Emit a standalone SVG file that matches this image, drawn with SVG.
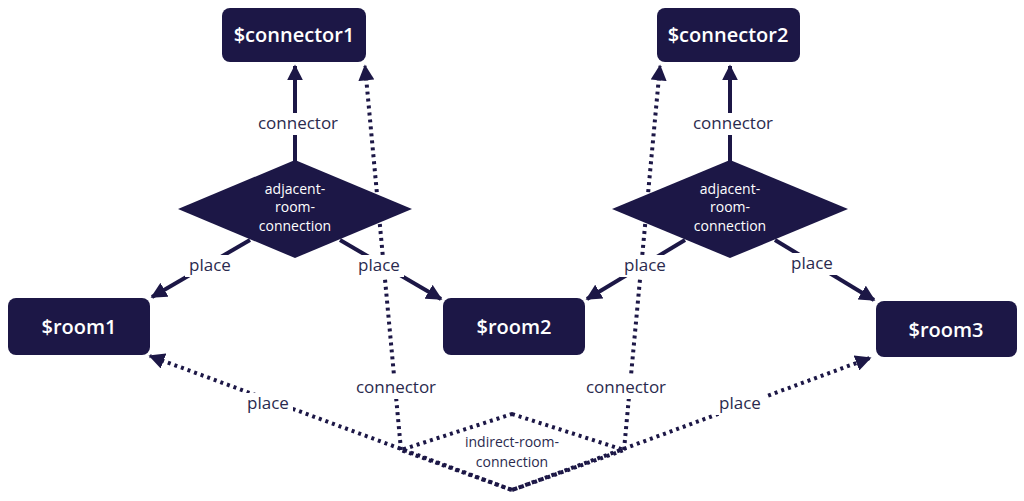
<svg xmlns="http://www.w3.org/2000/svg" width="1024" height="501" viewBox="0 0 1024 501">
<style>
.n{fill:#1c1746}
.nt{fill:#fff;font-family:"Open Sans","Liberation Sans",sans-serif;font-size:20px;font-weight:600;text-anchor:middle}
.dt{fill:#fff;font-family:"Open Sans","Liberation Sans",sans-serif;font-size:14px;text-anchor:middle}
.lt{fill:#2a2a4e;font-family:"Open Sans","Liberation Sans",sans-serif;font-size:17px;text-anchor:middle}
.it{fill:#2a2a4e;font-family:"Open Sans","Liberation Sans",sans-serif;font-size:14px;text-anchor:middle}
.s{stroke:#1c1746;stroke-width:4;fill:none}
.d{stroke:#1c1746;stroke-width:4;fill:none;stroke-dasharray:3 4}
.bg{fill:#fff}
</style>
<defs>
<marker id="a" viewBox="0 0 10 10" refX="9" refY="5" markerWidth="4" markerHeight="4" orient="auto" markerUnits="strokeWidth"><path d="M0,0L10,5L0,10z" fill="#1c1746"/></marker>
</defs>
<g id="connectors">
<line class="s" x1="295" y1="170" x2="295" y2="66" marker-end="url(#a)"/>
<line class="s" x1="250" y1="240" x2="152" y2="297" marker-end="url(#a)"/>
<line class="s" x1="340" y1="240" x2="441" y2="299" marker-end="url(#a)"/>
<line class="s" x1="730" y1="170" x2="730" y2="66" marker-end="url(#a)"/>
<line class="s" x1="685" y1="240" x2="587" y2="299" marker-end="url(#a)"/>
<line class="s" x1="775" y1="240" x2="874" y2="300" marker-end="url(#a)"/>
<line class="d" x1="401" y1="450" x2="365" y2="66" marker-end="url(#a)"/>
<line class="d" x1="624" y1="450" x2="660" y2="66" marker-end="url(#a)"/>
<line class="d" x1="512" y1="490" x2="150" y2="356" marker-end="url(#a)"/>
<line class="d" x1="512" y1="490" x2="870" y2="358" marker-end="url(#a)"/>
<rect class="bg" x="250" y="113" width="96" height="22"/>
<text class="lt" x="298" y="129">connector</text>
<rect class="bg" x="685" y="113" width="96" height="22"/>
<text class="lt" x="733" y="129">connector</text>
<rect class="bg" x="185" y="255" width="50" height="22"/>
<text class="lt" x="210" y="271">place</text>
<rect class="bg" x="354" y="255" width="50" height="22"/>
<text class="lt" x="379" y="271">place</text>
<rect class="bg" x="620" y="255" width="50" height="22"/>
<text class="lt" x="645" y="271">place</text>
<rect class="bg" x="787" y="253" width="50" height="22"/>
<text class="lt" x="812" y="269">place</text>
<rect class="bg" x="348" y="377" width="96" height="22"/>
<text class="lt" x="396" y="393">connector</text>
<rect class="bg" x="578" y="377" width="96" height="22"/>
<text class="lt" x="626" y="393">connector</text>
<rect class="bg" x="243" y="393" width="50" height="22"/>
<text class="lt" x="268" y="409">place</text>
<rect class="bg" x="715" y="393" width="50" height="22"/>
<text class="lt" x="740" y="409">place</text>
</g>
<g id="indirect-room-connection">
<polygon class="d" points="512,414 624,450 512,490 401,450"/>
<text class="it" x="512" y="447">indirect-room-</text>
<text class="it" x="512" y="467">connection</text>
</g>
<g id="adjacent1">
<polygon class="n" points="295,160 412,209 295,258 178,209"/>
<text class="dt" x="295" y="194">adjacent-</text>
<text class="dt" x="295" y="212">room-</text>
<text class="dt" x="295" y="231">connection</text>
</g>
<g id="adjacent2">
<polygon class="n" points="730,160 848,209 730,258 612,209"/>
<text class="dt" x="730" y="194">adjacent-</text>
<text class="dt" x="730" y="212">room-</text>
<text class="dt" x="730" y="231">connection</text>
</g>
<g id="connector1"><rect class="n" x="222" y="8" width="144" height="54" rx="8"/><text class="nt" x="294" y="42">$connector1</text></g>
<g id="connector2"><rect class="n" x="657" y="8" width="143" height="54" rx="8"/><text class="nt" x="728" y="42">$connector2</text></g>
<g id="room1"><rect class="n" x="8" y="298" width="142" height="57" rx="8"/><text class="nt" x="79" y="334">$room1</text></g>
<g id="room2"><rect class="n" x="443" y="298" width="142" height="57" rx="8"/><text class="nt" x="514" y="334">$room2</text></g>
<g id="room3"><rect class="n" x="876" y="301" width="141" height="56" rx="8"/><text class="nt" x="946" y="337">$room3</text></g>
</svg>
